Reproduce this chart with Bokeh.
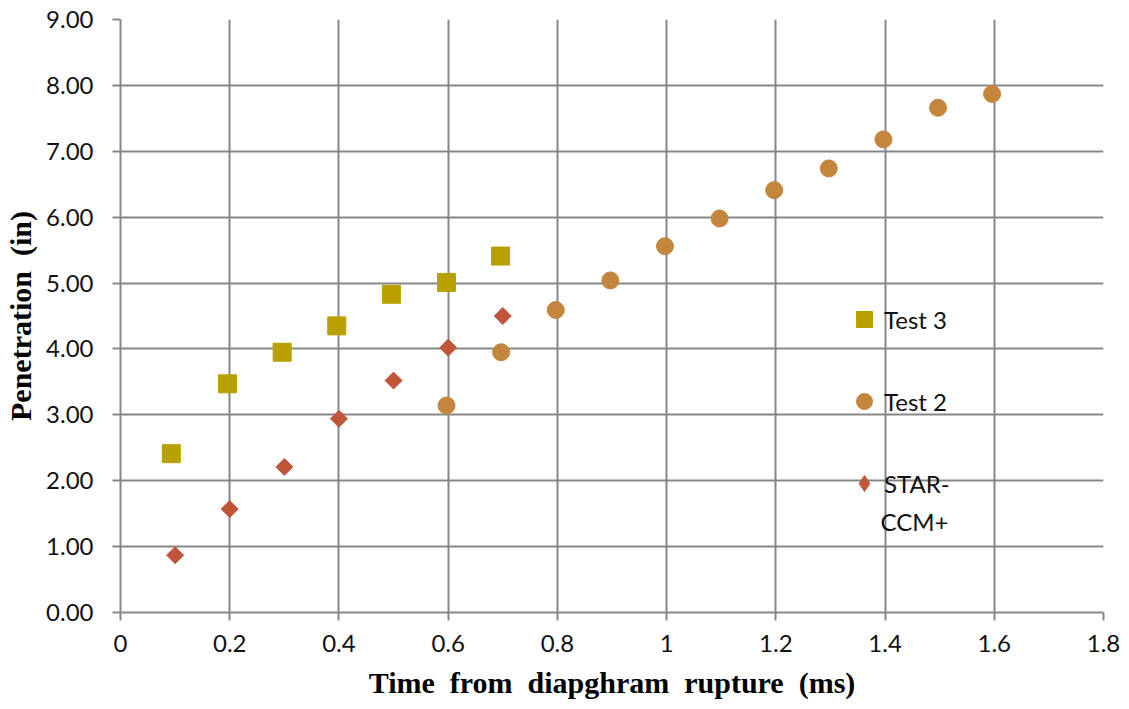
import math
from bokeh.plotting import figure
from bokeh.models import Legend, LegendItem, NumeralTickFormatter, FixedTicker, Range1d, Label
from bokeh.embed import file_html
from bokeh.resources import INLINE

# data
test3_x = [0.093, 0.196, 0.296, 0.396, 0.496, 0.597, 0.696]
test3_y = [2.41, 3.47, 3.95, 4.35, 4.83, 5.01, 5.41]
test2_x = [0.597, 0.697, 0.797, 0.897, 0.997, 1.097, 1.197, 1.297, 1.397, 1.497, 1.596]
test2_y = [3.14, 3.95, 4.59, 5.04, 5.56, 5.98, 6.41, 6.74, 7.18, 7.66, 7.87]
star_x = [0.1, 0.2, 0.3, 0.4, 0.5, 0.6, 0.7]
star_y = [0.87, 1.57, 2.21, 2.94, 3.52, 4.02, 4.50]
series_names = ["Test 3", "Test 2", "STAR-", "CCM+"]
x_ticks = [0, 0.2, 0.4, 0.6, 0.8, 1.0, 1.2, 1.4, 1.6, 1.8]
y_ticks = [0, 1, 2, 3, 4, 5, 6, 7, 8, 9]

GRID = "#878787"
FONT = "Lato"
C3, C2, CS = "#B8A000", "#C4853D", "#C0553A"
SP = "\u00a0 "

p = figure(width=1121, height=709, output_backend="svg", toolbar_location=None,
           x_range=Range1d(0, 1.8), y_range=Range1d(0, 9),
           min_border_left=120, min_border_right=18, min_border_top=19, min_border_bottom=97)
p.outline_line_color = None

sq = p.scatter(test3_x, test3_y, marker="square", size=18, color=C3)
ci = p.scatter(test2_x, test2_y, marker="circle", size=17, color=C2)
p.scatter(star_x, star_y, marker="square", size=12, angle=math.pi / 4, color=CS)
# zero-size twin of the STAR-CCM+ series: invisible in the plot, gives the legend a diamond symbol
di_leg = p.scatter(star_x, star_y, marker="diamond", size=0, color=CS)

for ax in (p.xaxis[0], p.yaxis[0]):
    ax.axis_line_color = GRID
    ax.axis_line_width = 2
    ax.major_tick_line_color = GRID
    ax.major_tick_line_width = 2
    ax.major_tick_out = 8
    ax.major_tick_in = 0
    ax.minor_tick_line_color = None
    ax.major_label_text_font = FONT
    ax.major_label_text_font_size = "24px"
    ax.major_label_text_color = "#111111"
    ax.axis_label_text_font = "Liberation Serif"
    ax.axis_label_text_font_style = "bold"
    ax.axis_label_text_font_size = "30px"
    ax.axis_label_text_color = "#000000"

p.xaxis.ticker = FixedTicker(ticks=x_ticks)
p.yaxis.ticker = FixedTicker(ticks=y_ticks)
p.xaxis.formatter = NumeralTickFormatter(format="0.[0]")
p.yaxis.formatter = NumeralTickFormatter(format="0.00")
p.xaxis.major_label_standoff = 14
p.yaxis.major_label_standoff = 19
p.xaxis.axis_label = SP.join(["Time", "from", "diapghram", "rupture", "(ms)"])
p.yaxis.axis_label = SP.join(["Penetration", "(in)"])
p.xaxis.axis_label_standoff = 11
p.yaxis.axis_label_standoff = 6

p.xgrid.grid_line_color = GRID
p.ygrid.grid_line_color = GRID
p.xgrid.grid_line_width = 2
p.ygrid.grid_line_width = 2
p.xgrid.ticker = FixedTicker(ticks=x_ticks)
p.ygrid.ticker = FixedTicker(ticks=y_ticks)

legend = Legend(items=[LegendItem(label=series_names[0], renderers=[sq]),
                       LegendItem(label=series_names[1], renderers=[ci]),
                       LegendItem(label=series_names[2], renderers=[di_leg])],
                location=(724, 109), orientation="vertical",
                background_fill_alpha=0, border_line_alpha=0,
                padding=0, margin=0, spacing=42,
                glyph_width=40, glyph_height=40, label_standoff=0,
                label_text_font=FONT, label_text_font_size="24px",
                label_text_color="#111111")
p.add_layout(legend, "center")

p.add_layout(Label(x=760, y=91, x_units="screen", y_units="screen", text=series_names[3],
                   text_font=FONT, text_font_size="24px", text_color="#111111",
                   text_baseline="middle"))

open("out.html", "w").write(file_html(p, INLINE))
